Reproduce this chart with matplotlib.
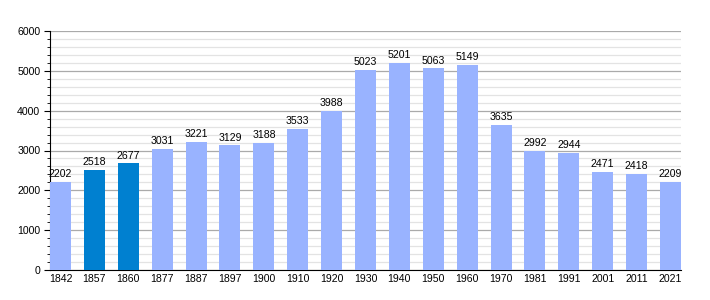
import matplotlib
matplotlib.use("Agg")
from matplotlib import pyplot as plt
from matplotlib.ticker import MultipleLocator

years = ["1842", "1857", "1860", "1877", "1887", "1897", "1900", "1910", "1920", "1930",
         "1940", "1950", "1960", "1970", "1981", "1991", "2001", "2011", "2021"]
population = [2202, 2518, 2677, 3031, 3221, 3129, 3188, 3533, 3988, 5023,
              5201, 5063, 5149, 3635, 2992, 2944, 2471, 2418, 2209]
highlight = ["1857", "1860"]

plt.rcParams['font.family'] = ['Liberation Sans', 'DejaVu Sans']

fig = plt.figure(figsize=(7.1, 3.0), dpi=100)
ax = fig.add_axes([50/710, 30/300, 631/710, 239/300])

colors = ['#0080d0' if y in highlight else '#99b3ff' for y in years]
x = range(len(years))
w = 0.62
ax.bar(x, population, width=w, color=colors, zorder=3)

# value labels above bars
for xi, v in zip(x, population):
    ax.text(xi, v + 70, str(v), ha='center', va='bottom', fontsize=7.6, zorder=4)

ax.set_xlim(-w/2, len(years) - 1 + w/2)
ax.set_ylim(0, 6000)
ax.set_xticks(list(x))
ax.set_xticklabels(years)
ax.yaxis.set_major_locator(MultipleLocator(1000))
ax.yaxis.set_minor_locator(MultipleLocator(200))
ax.grid(axis='y', which='major', color='#aaaaaa', linewidth=0.9, zorder=0)
ax.grid(axis='y', which='minor', color='#e3e3e3', linewidth=0.9, zorder=0)
ax.tick_params(axis='x', length=0, labelsize=7.6, pad=3)
ax.tick_params(axis='y', which='major', length=4, labelsize=7.6, pad=3)
ax.tick_params(axis='y', which='minor', length=2)
for s in ['top', 'right']:
    ax.spines[s].set_visible(False)

plt.savefig("out.png")
